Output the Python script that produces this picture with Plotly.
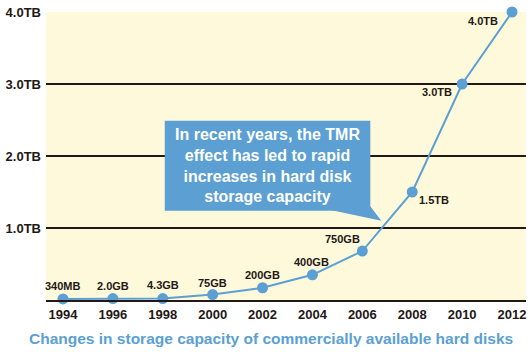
import plotly.graph_objects as go

years = [1994, 1996, 1998, 2000, 2002, 2004, 2006, 2008, 2010, 2012]
capacity_tb = [0.015, 0.02, 0.02, 0.075, 0.17, 0.35, 0.68, 1.5, 3.0, 4.0]
point_labels = ["340MB", "2.0GB", "4.3GB", "75GB", "200GB", "400GB", "750GB", "1.5TB", "3.0TB", "4.0TB"]
label_shift_x = [0, 0, 0, 0, 0, -1, -20, 22, -25, -29]
label_shift_y = [13, 13, 14, 12, 13, 13, 12, -8, -8, -9]
y_tick_vals = [1, 2, 3, 4]
y_tick_text = ["1.0TB", "2.0TB", "3.0TB", "4.0TB"]
x_tick_vals = years
callout_text = "In recent years, the TMR<br>effect has led to rapid<br>increases in hard disk<br>storage capacity"
title_text = "Changes in storage capacity of commercially available hard disks"

BLUE = "#5B9FD3"
DARK = "#231815"
FONT = "Liberation Sans, Arial, sans-serif"

fig = go.Figure()
fig.add_trace(go.Scatter(
    x=years, y=capacity_tb, mode="lines+markers",
    line=dict(color=BLUE, width=2),
    marker=dict(color=BLUE, size=11),
    cliponaxis=False, hoverinfo="skip", showlegend=False,
))

for x, y, t, dx, dy in zip(years, capacity_tb, point_labels, label_shift_x, label_shift_y):
    fig.add_annotation(x=x, y=y, text=f"<b>{t}</b>", showarrow=False,
                       xshift=dx, yshift=dy, xanchor="center", yanchor="middle",
                       font=dict(family=FONT, size=11, color=DARK))

# callout box and tail
fig.add_shape(type="path",
              path="M 2004.68 1.255 L 2006.3 1.31 L 2006.76 1.10 Z",
              xref="x", yref="y", fillcolor=BLUE, line=dict(width=0), layer="above")
fig.add_shape(type="rect", x0=1998.08, x1=2006.32, y0=1.24, y1=2.49,
              xref="x", yref="y", fillcolor=BLUE, line=dict(width=0), layer="above")
fig.add_annotation(x=(1998.08 + 2006.32) / 2, y=(1.24 + 2.49) / 2, text=f"<b>{callout_text}</b>",
                   showarrow=False, xanchor="center", yanchor="middle", align="center",
                   font=dict(family=FONT, size=16, color="white"))

fig.add_annotation(x=0.469, y=-0.135, xref="paper", yref="paper", yanchor="middle",
                   xanchor="center",
                   text=f"<b>{title_text}</b>", showarrow=False,
                   font=dict(family=FONT, size=15.5, color=BLUE))

fig.update_layout(
    width=530, height=352,
    margin=dict(l=46, r=4, t=12, b=52),
    paper_bgcolor="white", plot_bgcolor="#FEF9DB",
    xaxis=dict(range=[1993.32, 2012.56], tickvals=x_tick_vals, showgrid=False,
               showline=True, linecolor=DARK, linewidth=1.5, zeroline=False,
               ticks="", ticklabelstandoff=2,
               tickfont=dict(family=FONT, size=13, color=DARK)),
    yaxis=dict(range=[0, 4.0], tickvals=y_tick_vals, ticktext=[f"<b>{t}</b>" for t in y_tick_text],
               showgrid=True, gridcolor=DARK, gridwidth=1.5, zeroline=False, showline=False,
               ticks="", ticklabelstandoff=4,
               tickfont=dict(family=FONT, size=13, color=DARK)),
)
fig.update_xaxes(ticktext=[f"<b>{v}</b>" for v in x_tick_vals])

fig.write_html("out.html")
